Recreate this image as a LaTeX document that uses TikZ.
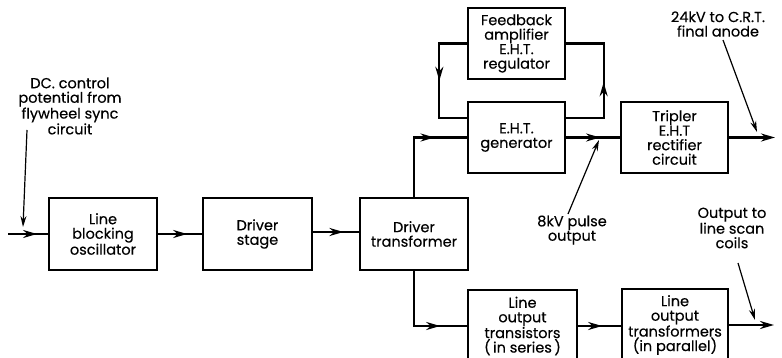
\documentclass[tikz,border=0pt]{standalone}
\usepackage{fontspec}
\setmainfont{Poppins}[FakeBold=0.3]
\usetikzlibrary{arrows.meta,decorations.markings}
\begin{document}
\begin{tikzpicture}[x=1pt,y=-1pt,
  txt/.style={font=\fontsize{14.5}{14.5}\selectfont},
  box/.style={draw, line width=1.3pt, align=center, inner sep=0pt, txt},
  lbl/.style={align=center, inner sep=0pt, txt},
  conn/.style={line width=2.2pt},
  thin/.style={line width=1.2pt, -{Stealth[length=11pt,width=6pt]}},
  endtip/.style={-{Stealth[length=14pt,width=8pt]}},
  midarr/.style={postaction={decorate},decoration={markings,
    mark=at position #1 with {\arrow{Stealth[length=14pt,width=8pt]}}}}
]
\useasboundingbox (0,0) rectangle (782,358);
\clip (0,0) rectangle (782,358);

% boxes
\node[box, minimum width=108pt, minimum height=72pt] (lbo) at (103,234) {Line\\blocking\\oscillator};
\node[box, minimum width=109pt, minimum height=72pt] (ds) at (257.5,234) {Driver\\stage};
\node[box, minimum width=108pt, minimum height=72pt] (dt) at (414,234) {Driver\\transformer};
\node[box, minimum width=97pt, minimum height=71pt] (fb) at (516.5,43.5) {Feedback\\amplifier\\E.H.T.\\regulator};
\node[box, minimum width=97pt, minimum height=71pt] (gen) at (516.5,137.5) {E.H.T.\\generator};
\node[box, minimum width=107pt, minimum height=71pt] (trip) at (674.5,137.5) {Tripler\\E.H.T\\rectifier\\circuit};
\node[box, minimum width=109pt, minimum height=72pt] (lots) at (522.5,326) {Line\\output\\transistors\\(\,in series\,)};
\node[box, minimum width=106pt, minimum height=72pt] (lotf) at (675,325) {Line\\output\\transformers\\(in parallel)};

% labels
\node[lbl] (dc) at (70,106) {DC. control\\potential from\\flywheel sync\\circuit};
\node[lbl] (kv8) at (572,230) {8kV pulse\\output};
\node[lbl] (kv24) at (718,24) {24kV to C.R.T.\\final anode};
\node[lbl] (outl) at (732,228) {Output to\\line scan\\coils};

% free ends
\coordinate (in) at (8,234);
\coordinate (out1) at (775,137.5);
\coordinate (out2) at (774,325);
\coordinate (dcs) at (27,130);
\coordinate (dce) at (23,227);
\coordinate (k8s) at (568,214);
\coordinate (k8e) at (599,140);
\coordinate (k24s) at (723,40);
\coordinate (k24e) at (757,132);
\coordinate (ols) at (738,263);
\coordinate (ole) at (755,320);

% connectors
\draw[conn, midarr=0.72] (in) -- (lbo.west);
\draw[conn, midarr=0.66] (lbo.east) -- (ds.west);
\draw[conn, midarr=0.66] ([yshift=2pt]ds.east) -- ([yshift=2pt]dt.west);
\draw[conn, midarr=0.71] (dt.north) |- (gen.west);
\draw[conn, midarr=0.75] (dt.south) |- (lots.west);
\draw[conn, midarr=0.56] (lots.east) -- (lots.east -| lotf.west);
\draw[conn, endtip] (lotf.east |- out2) -- (out2);
\draw[conn, midarr=0.63] (gen.east) -- (trip.west);
\draw[conn, endtip] (trip.east) -- (out1);
\draw[conn, midarr=0.5] (fb.west) -- ++(-28,0) |- ([yshift=19.5pt]gen.west);
\draw[conn, midarr=0.49] ([yshift=19.5pt]gen.east) -- ++(38,0) |- (fb.east);

% label arrows
\draw[thin] (dcs) -- (dce);
\draw[thin] (k8s) -- (k8e);
\draw[thin] (k24s) -- (k24e);
\draw[thin] (ols) -- (ole);
\end{tikzpicture}
\end{document}
